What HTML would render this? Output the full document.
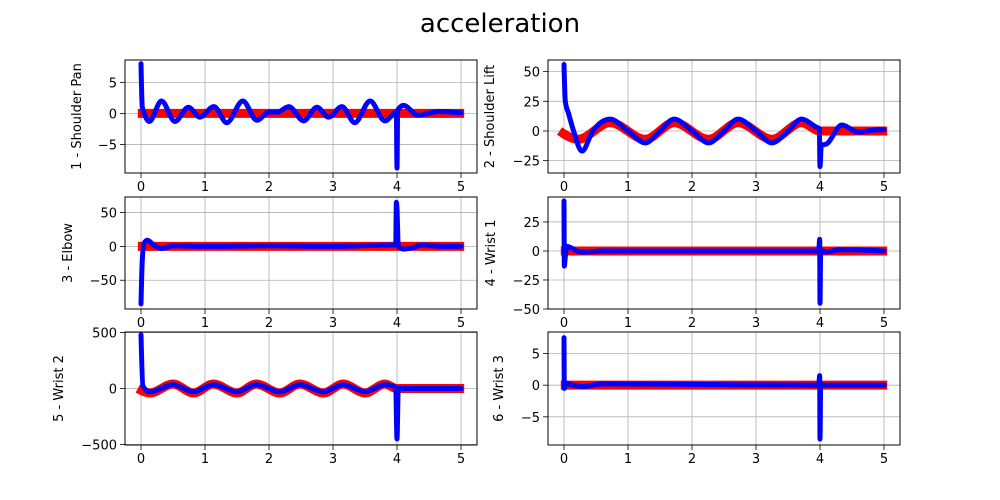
<!DOCTYPE html>
<html>
<head>
<meta charset="utf-8">
<style>
  html,body{margin:0;padding:0;background:#fff;}
  svg{display:block;font-family:"DejaVu Sans","Liberation Sans",sans-serif;}
  .tick{font-size:13px;fill:#000;}
  .ylab{font-size:13px;fill:#000;}
</style>
</head>
<body>
<svg id="fig" width="1000" height="500" viewBox="0 0 1000 500" xmlns="http://www.w3.org/2000/svg">
  <rect x="0" y="0" width="1000" height="500" fill="#fff"/>
  <text x="500" y="32" text-anchor="middle" style="font-size:26px">acceleration</text>
</svg>
<script>
// ---- data (time, value) ----
const xTicks = [0, 1, 2, 3, 4, 5];

const p1RefT = [-0.05, 5.05];
const p1RefV = [0, 0];
const p1ActT = [0, 0.02, 0.05, 0.13, 0.32, 0.53, 0.74, 0.92, 1.14, 1.34, 1.59, 1.81, 2.0, 2.13, 2.31, 2.54, 2.75, 2.93, 3.14, 3.34, 3.58, 3.81, 3.97, 3.99, 4.0, 4.01, 4.03, 4.1, 4.33, 4.65, 5.0];
const p1ActV = [8, 1, 0, -1.3, 2.0, -1.3, 1.0, -0.6, 1.1, -1.5, 2.0, -1.1, 0.2, 0.2, 1.1, -1.2, 1.0, -0.6, 1.1, -1.5, 2.0, -1.2, 0.1, 0.2, -8.8, 0.5, 0.8, 1.3, -0.3, 0.3, 0.1];

const p2RefT = [-0.07, 0.22, 0.72, 1.27, 1.72, 2.26, 2.72, 3.25, 3.71, 4.0, 5.05];
const p2RefV = [0, -7, 7, -7, 7, -7, 7, -7, 7, 0, 0];
const p2ActT = [0, 0.02, 0.07, 0.15, 0.28, 0.45, 0.72, 1.0, 1.27, 1.5, 1.72, 2.0, 2.26, 2.5, 2.72, 3.0, 3.25, 3.5, 3.71, 3.95, 3.99, 4.0, 4.02, 4.1, 4.34, 4.6, 4.9, 5.0];
const p2ActV = [56, 25, 15, 0, -17, 0, 10, 0, -10, 0, 10, 0, -10, 0, 10, 0, -10, 0, 10, 3, 2, -30, -12, -11, 5, -1, 1, 1];

const p3RefT = [-0.05, 5.05];
const p3RefV = [0, 0];
const p3ActT = [0, 0.02, 0.05, 0.1, 0.2, 0.32, 0.5, 1.0, 2.0, 3.0, 3.9, 3.98, 3.99, 4.0, 4.02, 4.1, 4.2, 4.4, 4.7, 5.0];
const p3ActV = [-85, -20, 5, 9, 2, -3, 1, 0, 1, 0, 2, 2, 65, 55, 0, -4, -3, 2, 0, 0];

const p4RefT = [-0.05, 5.05];
const p4RefV = [0, 0];
const p4ActT = [0, 0.005, 0.02, 0.05, 0.1, 0.2, 0.3, 0.6, 3.98, 3.995, 4.0, 4.01, 4.04, 4.1, 4.3, 5.0];
const p4ActV = [43, -13, -5, 4, 3, 0, -1, 0, 0, 10, -45, 0, 0, -1, 1, 0];

const p5RefT = [-0.05, 0.14, 0.5, 0.82, 1.13, 1.5, 1.8, 2.17, 2.48, 2.85, 3.16, 3.5, 3.81, 4.0, 5.05];
const p5RefV = [0, -40, 40, -40, 40, -40, 40, -40, 40, -40, 40, -40, 40, 0, 0];
const p5ActT = [0, 0.03, 0.14, 0.5, 0.82, 1.13, 1.5, 1.8, 2.17, 2.48, 2.85, 3.16, 3.5, 3.81, 3.98, 4.0, 4.02, 4.1, 5.0];
const p5ActV = [480, 20, -30, 35, -30, 35, -30, 35, -30, 35, -30, 35, -30, 35, 10, -450, 0, 0, 0];

const p6RefT = [-0.05, 5.05];
const p6RefV = [0, 0];
const p6ActT = [0, 0.005, 0.03, 0.1, 0.3, 0.6, 3.98, 3.995, 4.0, 4.01, 4.05, 5.0];
const p6ActV = [7.5, -0.5, 0.3, 0.1, -0.2, 0.2, 0, 1.5, -8.5, 0, 0, 0];

const panels = [
  {id:'shoulder-pan', L:125, T:60, W:352, H:113, ymin:-9.6, ymax:8.6, yt:[-5,0,5], label:'1 - Shoulder Pan', lx:81, rt:p1RefT, rv:p1RefV, at:p1ActT, av:p1ActV},
  {id:'shoulder-lift', L:548, T:60, W:352, H:113, ymin:-35.4, ymax:59.8, yt:[-25,0,25,50], label:'2 - Shoulder Lift', lx:494, rt:p2RefT, rv:p2RefV, at:p2ActT, av:p2ActV},
  {id:'elbow', L:125, T:197, W:352, H:112, ymin:-92.5, ymax:73, yt:[-50,0,50], label:'3 - Elbow', lx:72, rt:p3RefT, rv:p3RefV, at:p3ActT, av:p3ActV},
  {id:'wrist-1', L:548, T:197, W:352, H:112, ymin:-50, ymax:46.5, yt:[-50,-25,0,25], label:'4 - Wrist 1', lx:495, rt:p4RefT, rv:p4RefV, at:p4ActT, av:p4ActV},
  {id:'wrist-2', L:125, T:332, W:352, H:113, ymin:-505, ymax:505, yt:[-500,0,500], label:'5 - Wrist 2', lx:63, rt:p5RefT, rv:p5RefV, at:p5ActT, av:p5ActV},
  {id:'wrist-3', L:548, T:332, W:352, H:113, ymin:-9.45, ymax:8.4, yt:[-5,0,5], label:'6 - Wrist 3', lx:503, rt:p6RefT, rv:p6RefV, at:p6ActT, av:p6ActV}
];

const NS = 'http://www.w3.org/2000/svg';
const svg = document.getElementById('fig');
function mk(tag, attrs, parent){
  const e = document.createElementNS(NS, tag);
  for (const k in attrs) e.setAttribute(k, attrs[k]);
  (parent||svg).appendChild(e);
  return e;
}
function fmt(v){ return (v<0?'\u2212':'') + Math.abs(v); }

function monotonePath(xs, ys){
  const n = xs.length;
  if (n < 2) return '';
  if (n === 2) return 'M'+xs[0]+','+ys[0]+'L'+xs[1]+','+ys[1];
  const m = new Array(n).fill(0);
  const sgn = v => v<0?-1:v>0?1:0;
  for (let i=1;i<n-1;i++){
    const h0 = xs[i]-xs[i-1], h1 = xs[i+1]-xs[i];
    const s0 = (ys[i]-ys[i-1])/h0, s1 = (ys[i+1]-ys[i])/h1;
    const p = (s0*h1 + s1*h0)/(h0+h1);
    m[i] = (sgn(s0)+sgn(s1))*Math.min(Math.abs(s0),Math.abs(s1),0.5*Math.abs(p)) || 0;
  }
  const hA = xs[1]-xs[0];
  m[0] = hA ? (3*(ys[1]-ys[0])/hA - m[1])/2 : 0;
  const hB = xs[n-1]-xs[n-2];
  m[n-1] = hB ? (3*(ys[n-1]-ys[n-2])/hB - m[n-2])/2 : 0;
  let d = 'M'+xs[0].toFixed(2)+','+ys[0].toFixed(2);
  for (let i=0;i<n-1;i++){
    const dx = (xs[i+1]-xs[i])/3;
    d += 'C'+(xs[i]+dx).toFixed(2)+','+(ys[i]+dx*m[i]).toFixed(2)+' '+
         (xs[i+1]-dx).toFixed(2)+','+(ys[i+1]-dx*m[i+1]).toFixed(2)+' '+
         xs[i+1].toFixed(2)+','+ys[i+1].toFixed(2);
  }
  return d;
}

panels.forEach((p, idx) => {
  const xS = t => p.L + (t + 0.25) / 5.5 * p.W;
  const yS = v => p.T + (p.ymax - v) / (p.ymax - p.ymin) * p.H;
  const g = mk('g', {});
  
  

  const clipId = 'clip' + idx;
  const cp = mk('clipPath', {id: clipId}, g);
  mk('rect', {x:p.L, y:p.T, width:p.W, height:p.H}, cp);

  xTicks.forEach(t => {
    const l = mk('line', {x1:xS(t), x2:xS(t), y1:p.T, y2:p.T+p.H, stroke:'#b0b0b0', 'stroke-width':0.8}, g);
    
    
  });
  p.yt.forEach(v => {
    const l = mk('line', {x1:p.L, x2:p.L+p.W, y1:yS(v), y2:yS(v), stroke:'#b0b0b0', 'stroke-width':0.8}, g);
    
    
  });

  const clipG = mk('g', {'clip-path':'url(#'+clipId+')'}, g);
  const ref = mk('path', {d: monotonePath(p.rt.map(xS), p.rv.map(yS)), fill:'none', stroke:'#ff0000', 'stroke-width':9, 'stroke-linejoin':'round'}, clipG);
  
  
  const act = mk('path', {d: monotonePath(p.at.map(xS), p.av.map(yS)), fill:'none', stroke:'#0000ff', 'stroke-width':5, 'stroke-linejoin':'round', 'stroke-linecap':'round'}, clipG);
  
  

  const fr = mk('rect', {x:p.L, y:p.T, width:p.W, height:p.H, fill:'none', stroke:'#000', 'stroke-width':1}, g);
  
  

  xTicks.forEach(t => {
    const x = xS(t);
    mk('line', {x1:x, x2:x, y1:p.T+p.H, y2:p.T+p.H+5, stroke:'#000', 'stroke-width':0.8}, g);
    const tx = mk('text', {x:x, y:p.T+p.H+18, 'text-anchor':'middle', class:'tick'}, g);
    tx.textContent = String(t);
    
    
  });
  p.yt.forEach(v => {
    const y = yS(v);
    mk('line', {x1:p.L-5, x2:p.L, y1:y, y2:y, stroke:'#000', 'stroke-width':0.8}, g);
    const tx = mk('text', {x:p.L-8, y:y+5, 'text-anchor':'end', class:'tick'}, g);
    tx.textContent = fmt(v);
    
    
  });
  const cy = p.T + p.H/2;
  const yl = mk('text', {x:p.lx, y:cy, 'text-anchor':'middle', class:'ylab', transform:'rotate(-90 '+p.lx+' '+cy+')'}, g);
  yl.textContent = p.label;
  
  
});
</script>
</body>
</html>
